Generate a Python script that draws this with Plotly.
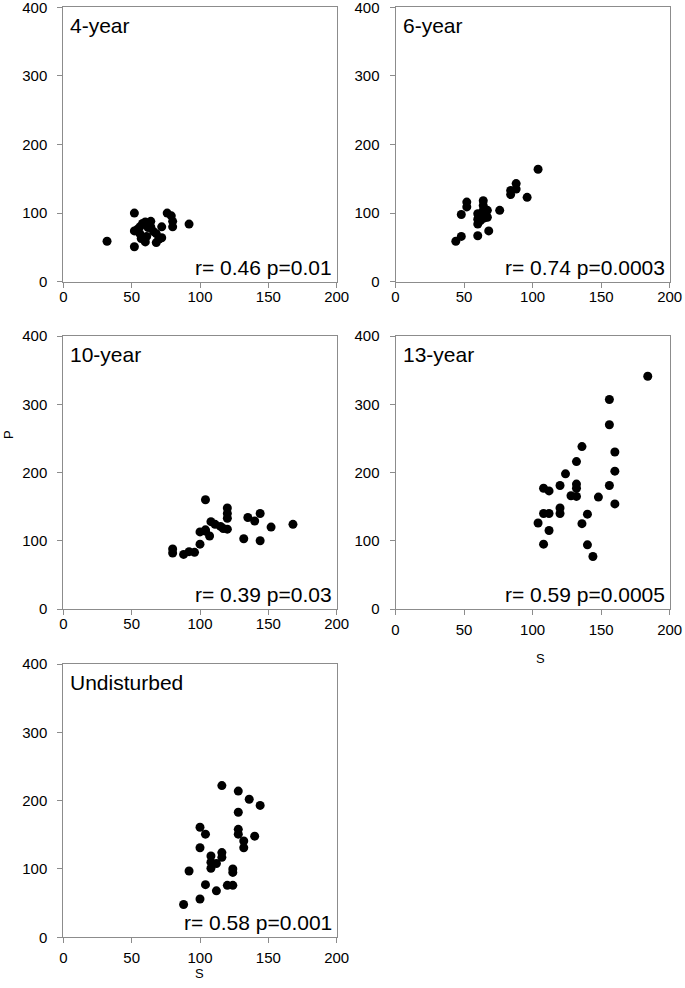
import plotly.graph_objects as go

# ---- data ----
panel_names = ["4-year", "6-year", "10-year", "13-year", "Undisturbed"]
stats_text = ["r= 0.46 p=0.01", "r= 0.74 p=0.0003", "r= 0.39 p=0.03",
              "r= 0.59 p=0.0005", "r= 0.58 p=0.001"]
x_title = "S"
y_title = "P"

x4 = [32, 52, 52, 52, 54, 56, 56, 57, 58, 60, 60, 61, 62, 64, 64, 66, 68, 68, 70, 72, 72, 76, 79, 80, 80, 92]
y4 = [59, 100, 74, 51, 76, 80, 70, 63, 85, 87, 58, 66, 79, 88, 80, 73, 70, 57, 62, 80, 64, 100, 96, 88, 80, 84]

x6 = [44, 48, 48, 52, 52, 60, 60, 60, 60, 61, 62, 63, 64, 64, 64, 65, 66, 67, 67, 68, 76, 84, 84, 88, 88, 96, 104]
y6 = [59, 66, 98, 116, 109, 67, 99, 91, 84, 95, 89, 100, 118, 111, 104, 93, 96, 104, 94, 74, 104, 133, 127, 143, 135, 123, 164]

x10 = [80, 80, 88, 92, 96, 100, 100, 104, 104, 104, 107, 108, 111, 115, 117, 120, 120, 120, 120, 132, 135, 140, 144, 144, 152, 168]
y10 = [88, 82, 80, 84, 83, 95, 113, 160, 116, 114, 107, 128, 124, 121, 118, 148, 140, 133, 117, 103, 134, 129, 140, 100, 120, 124]

x13 = [104, 108, 108, 108, 112, 112, 112, 120, 120, 120, 124, 128, 132, 132, 132, 132, 136, 136, 140, 140, 144, 148, 156, 156, 156, 160, 160, 160, 184]
y13 = [126, 95, 140, 177, 173, 140, 115, 181, 148, 140, 198, 166, 216, 183, 177, 165, 238, 125, 139, 94, 77, 164, 307, 270, 181, 230, 202, 154, 341]

xU = [88, 92, 100, 100, 100, 104, 104, 108, 108, 108, 112, 112, 116, 116, 116, 120, 124, 124, 124, 128, 128, 128, 128, 132, 132, 136, 140, 144]
yU = [48, 97, 56, 131, 161, 151, 77, 119, 110, 101, 108, 68, 222, 124, 117, 76, 100, 95, 76, 214, 183, 158, 151, 141, 131, 202, 148, 193]

x_ticks = [0, 50, 100, 150, 200]
y_ticks = [0, 100, 200, 300, 400]

series = [(x4, y4), (x6, y6), (x10, y10), (x13, y13), (xU, yU)]

# ---- layout geometry (paper fractions of a 685x988 page) ----
W, H = 685, 988
col_x = [(63.3 / W, 336.7 / W), (395.5 / W, 669.7 / W)]
row_y = [(1 - 281.7 / H, 1 - 7.3 / H), (1 - 609 / H, 1 - 336 / H), (1 - 937.3 / H, 1 - 664 / H)]
positions = [(0, 0), (0, 1), (1, 0), (1, 1), (2, 0)]
x_label_standoff = [-4, -4, -4, 2, 2]

AXC = "#8c8c8c"
FONT = "Liberation Sans, Arial, sans-serif"

fig = go.Figure()
layout = dict(
    width=W, height=H,
    margin=dict(l=0, r=0, t=0, b=0),
    paper_bgcolor="white", plot_bgcolor="white",
    showlegend=False,
    font=dict(family=FONT, color="black", size=15),
    annotations=[],
)

for i, ((xs, ys), (r, c)) in enumerate(zip(series, positions)):
    n = "" if i == 0 else str(i + 1)
    fig.add_trace(go.Scatter(
        x=xs, y=ys, mode="markers",
        marker=dict(color="black", size=9, line=dict(width=0)),
        xaxis="x" + n, yaxis="y" + n, hoverinfo="x+y",
    ))
    xa = dict(domain=list(col_x[c]), range=[0, 200], tickvals=x_ticks,
              showline=True, mirror=True, linecolor=AXC, linewidth=1,
              ticks="outside", ticklen=5, tickcolor=AXC, showgrid=False,
              zeroline=False, anchor="y" + n, automargin=False,
              ticklabeloverflow="allow", ticklabelstandoff=x_label_standoff[i],
              tickfont=dict(size=15, family=FONT, color="black"))
    ya = dict(domain=list(row_y[r]), range=[0, 400], tickvals=y_ticks,
              showline=True, mirror=True, linecolor=AXC, linewidth=1,
              ticks="outside", ticklen=5, tickcolor=AXC, showgrid=False,
              zeroline=False, anchor="x" + n, automargin=False,
              ticklabeloverflow="allow", ticklabelstandoff=7,
              tickfont=dict(size=15, family=FONT, color="black"))
    layout["xaxis" + n] = xa
    layout["yaxis" + n] = ya

    layout["annotations"].append(dict(
        text=panel_names[i], xref="x" + n + " domain", yref="y" + n + " domain",
        x=0, y=1, xanchor="left", yanchor="top", xshift=5, yshift=-5,
        showarrow=False, font=dict(size=21, family=FONT, color="black")))
    layout["annotations"].append(dict(
        text=stats_text[i], xref="x" + n + " domain", yref="y" + n + " domain",
        x=1, y=0, xanchor="right", yanchor="bottom", xshift=-3, yshift=1,
        showarrow=False, font=dict(size=21, family=FONT, color="black")))

# axis titles (placed where the reference shows them)
layout["annotations"].append(dict(
    text=y_title, xref="paper", yref="paper", x=8 / W, y=1 - 434 / H,
    xanchor="center", yanchor="middle", textangle=-90, showarrow=False,
    font=dict(size=13, family=FONT, color="black")))
layout["annotations"].append(dict(
    text=x_title, xref="paper", yref="paper", x=540 / W, y=1 - 658 / H,
    xanchor="center", yanchor="middle", showarrow=False,
    font=dict(size=13, family=FONT, color="black")))
layout["annotations"].append(dict(
    text=x_title, xref="paper", yref="paper", x=200 / W, y=1 - 973 / H,
    xanchor="center", yanchor="middle", showarrow=False,
    font=dict(size=13, family=FONT, color="black")))

fig.update_layout(**layout)
fig.write_html(
    "out.html",
    config={"displayModeBar": False},
    post_script="document.body.style.margin='0';document.body.style.overflow='hidden';",
)
